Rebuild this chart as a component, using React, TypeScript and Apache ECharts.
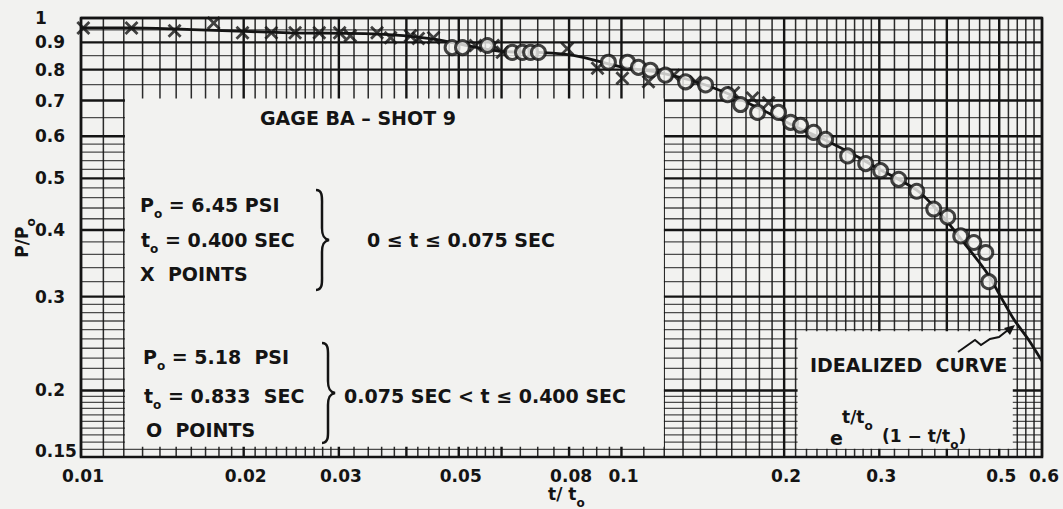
import React, { useEffect, useRef } from 'react';
import * as echarts from 'echarts';

const PAPER = '#f2f2f0';
const INK = '#141414';
const FONT = '"DejaVu Sans", sans-serif';

const X_MIN = 0.01;
const X_MAX = 0.6;
const Y_MIN = 0.15;
const Y_MAX = 1;

// tick labels
const xTickValues = [0.01, 0.02, 0.03, 0.05, 0.08, 0.1, 0.2, 0.3, 0.5, 0.6];
const xTickLabels = ['0.01', '0.02', '0.03', '0.05', '0.08', '0.1', '0.2', '0.3', '0.5', '0.6'];
const yTickValues = [1, 0.9, 0.8, 0.7, 0.6, 0.5, 0.4, 0.3, 0.2, 0.15];
const yTickLabels = ['1', '0.9', '0.8', '0.7', '0.6', '0.5', '0.4', '0.3', '0.2', '0.15'];

// log-log paper rulings: [from, to, step]
const xRulingRanges = [
  [0.01, 0.03, 0.001],
  [0.032, 0.06, 0.002],
  [0.065, 0.1, 0.005],
  [0.11, 0.3, 0.01],
  [0.32, 0.6, 0.02],
];
const yRulingRanges = [
  [0.155, 0.2, 0.005],
  [0.21, 0.3, 0.01],
  [0.32, 0.6, 0.02],
  [0.65, 1.0, 0.05],
];
const xMajor = [0.01, 0.02, 0.03, 0.04, 0.05, 0.06, 0.08, 0.1, 0.2, 0.3, 0.4, 0.5, 0.6];
const yMajor = [0.2, 0.3, 0.4, 0.5, 0.6, 0.7, 0.8, 0.9, 1];

// X points: 0 < t < 0.075 sec (t0 = 0.400 sec)
const xPoints = [
  [0.0101, 0.958], [0.0124, 0.958], [0.0149, 0.946], [0.0176, 0.979], [0.0199, 0.938],
  [0.0225, 0.938], [0.0249, 0.938], [0.0276, 0.938], [0.0301, 0.938], [0.0315, 0.926],
  [0.0353, 0.938], [0.0374, 0.918], [0.0407, 0.926], [0.0421, 0.915], [0.0449, 0.918],
  [0.0537, 0.888], [0.0579, 0.888], [0.0602, 0.862], [0.0794, 0.876], [0.0903, 0.805],
  [0.1004, 0.771], [0.1122, 0.759], [0.1249, 0.781], [0.1371, 0.759], [0.1612, 0.724],
  [0.1748, 0.708], [0.1872, 0.693],
];

// O points: 0.075 sec < t < 0.400 sec (t0 = 0.833 sec)
const oPoints = [
  [0.0486, 0.88], [0.0508, 0.88], [0.0565, 0.888], [0.0628, 0.862], [0.0656, 0.862],
  [0.0679, 0.862], [0.0702, 0.862], [0.0946, 0.826], [0.1026, 0.826], [0.1075, 0.808],
  [0.1131, 0.798], [0.1206, 0.781], [0.1314, 0.759], [0.1431, 0.749], [0.1572, 0.718],
  [0.1661, 0.688], [0.1786, 0.665], [0.1953, 0.665], [0.2056, 0.637], [0.2145, 0.629],
  [0.2268, 0.61], [0.2387, 0.592], [0.2621, 0.551], [0.2831, 0.533], [0.3017, 0.517],
  [0.3258, 0.498], [0.3518, 0.473], [0.3783, 0.438], [0.4015, 0.423], [0.4244, 0.39],
  [0.4487, 0.379], [0.4722, 0.363], [0.4783, 0.32],
];

// idealized curve as drawn
const idealizedCurve = [
  [0.01, 0.958], [0.0123, 0.958], [0.0166, 0.95], [0.0244, 0.938], [0.0347, 0.934],
  [0.0443, 0.915], [0.0597, 0.866], [0.0702, 0.862], [0.0815, 0.851], [0.101, 0.808],
  [0.1166, 0.791], [0.134, 0.765], [0.1545, 0.727], [0.1786, 0.679], [0.2056, 0.632],
  [0.2366, 0.592], [0.2735, 0.549], [0.298, 0.522], [0.329, 0.495], [0.358, 0.469],
  [0.398, 0.418], [0.437, 0.371], [0.476, 0.331], [0.503, 0.3], [0.532, 0.272],
  [0.565, 0.25], [0.6, 0.227],
];

// blank areas of the paper where the lettering sits: [x0, yTop, x1, yBottom]
const labelBoxes = [
  [0.01206, 0.706, 0.1198, 0.1568],
  [0.2118, 0.2582, 0.5298, 0.1555],
];

function expand(ranges: number[][]) {
  const out: number[] = [];
  ranges.forEach(([a, b, s]) => {
    const n = Math.round((b - a) / s);
    for (let i = 0; i <= n; i++) out.push(+(a + i * s).toFixed(4));
  });
  return out;
}
const xRulings = expand(xRulingRanges);
const yRulings = expand(yRulingRanges);
const isMajor = (v: number, list: number[]) => list.some((m) => Math.abs(m - v) < 1e-6);

const BRACE_D =
  'M0,0 C7,0 6,8 6,16 L6,38 C6,46 8,49 13,50 C8,51 6,54 6,62 L6,84 C6,92 7,100 0,100';
try {
  echarts.graphic.registerShape('brace', echarts.graphic.extendPath(BRACE_D, {}) as any);
} catch (e) {
  /* already registered */
}

const X_SYMBOL =
  'path://M0,1.7 L1.7,0 L6,4.3 L10.3,0 L12,1.7 L7.7,6 L12,10.3 L10.3,12 L6,7.7 L1.7,12 L0,10.3 L4.3,6 Z';

const richStyles = (size: number) => ({
  m: { fontSize: size, fontWeight: 'bold', fontFamily: FONT, fill: INK, lineHeight: 30 },
  s: { fontSize: 12, fontWeight: 'bold', fontFamily: FONT, fill: INK, lineHeight: 12, verticalAlign: 'bottom' },
});

function txt(text: string, x: number, y: number, size = 19, extra: any = {}) {
  return {
    type: 'text',
    x,
    y,
    z: 100,
    style: {
      text,
      fill: INK,
      font: `bold ${size}px ${FONT}`,
      align: 'left',
      verticalAlign: 'middle',
      ...extra,
    },
  };
}
function rich(text: string, x: number, y: number, size = 19, extra: any = {}) {
  return {
    type: 'text',
    x,
    y,
    z: 100,
    ...extra.el,
    style: {
      text,
      fill: INK,
      font: `bold ${size}px ${FONT}`,
      align: extra.align || 'left',
      verticalAlign: 'middle',
      rich: richStyles(size),
    },
  };
}

export default function App() {
  const ref = useRef<HTMLDivElement>(null);

  useEffect(() => {
    document.body.style.margin = '0';
    document.body.style.background = PAPER;
    const chart = echarts.init(ref.current!, undefined, { renderer: 'svg' });

    const option: any = {
      animation: false,
      backgroundColor: PAPER,
      grid: {
        left: 81,
        top: 18,
        width: 961,
        height: 439,
        show: true,
        borderColor: INK,
        borderWidth: 2.5,
        backgroundColor: 'transparent',
        z: 10,
      },
      xAxis: {
        type: 'log',
        logBase: 10,
        min: X_MIN,
        max: X_MAX,
        axisLine: { show: false },
        axisTick: { show: false },
        axisLabel: { show: false },
        splitLine: { show: false },
      },
      yAxis: {
        type: 'log',
        logBase: 10,
        min: Y_MIN,
        max: Y_MAX,
        axisLine: { show: false },
        axisTick: { show: false },
        axisLabel: { show: false },
        splitLine: { show: false },
      },
      series: [
        {
          type: 'custom',
          name: 'x rulings',
          silent: true,
          z: 1,
          data: xRulings.map((v) => [v, Y_MAX, isMajor(v, xMajor) ? 1 : 0]),
          renderItem: (params: any, api: any) => {
            const v = api.value(0);
            const major = api.value(2);
            const a = api.coord([v, Y_MIN]);
            const b = api.coord([v, Y_MAX]);
            return {
              type: 'line',
              shape: { x1: a[0], y1: a[1], x2: b[0], y2: b[1] },
              style: { stroke: INK, lineWidth: major ? 2.4 : 1.5, opacity: major ? 1 : 0.9 },
            };
          },
        },
        {
          type: 'custom',
          name: 'y rulings',
          silent: true,
          z: 1,
          data: yRulings.map((v) => [X_MAX, v, isMajor(v, yMajor) ? 1 : 0]),
          renderItem: (params: any, api: any) => {
            const v = api.value(1);
            const major = api.value(2);
            const a = api.coord([X_MIN, v]);
            const b = api.coord([X_MAX, v]);
            return {
              type: 'line',
              shape: { x1: a[0], y1: a[1], x2: b[0], y2: b[1] },
              style: { stroke: INK, lineWidth: major ? 2.4 : 1.3, opacity: major ? 1 : 0.75 },
            };
          },
        },
        {
          type: 'custom',
          name: 'blank areas',
          silent: true,
          z: 2,
          data: labelBoxes,
          renderItem: (params: any, api: any) => {
            const a = api.coord([api.value(0), api.value(1)]);
            const b = api.coord([api.value(2), api.value(3)]);
            return {
              type: 'rect',
              shape: { x: a[0], y: a[1], width: b[0] - a[0], height: b[1] - a[1] },
              style: { fill: PAPER },
            };
          },
        },
        {
          type: 'line',
          name: 'Idealized curve',
          z: 3,
          data: idealizedCurve,
          smooth: 0.3,
          symbol: 'none',
          lineStyle: { color: INK, width: 2.8 },
        },
        {
          type: 'scatter',
          name: 'X points',
          z: 4,
          data: xPoints,
          symbol: X_SYMBOL,
          symbolSize: 14,
          itemStyle: { color: INK },
        },
        {
          type: 'scatter',
          name: 'O points',
          z: 5,
          data: oPoints,
          symbol: 'circle',
          symbolSize: 14,
          itemStyle: { color: PAPER, borderColor: INK, borderWidth: 3 },
        },
        {
          type: 'custom',
          name: 'x labels',
          silent: true,
          clip: false,
          z: 6,
          data: xTickValues.map((v) => [v, Y_MIN]),
          renderItem: (params: any, api: any) => {
            const p = api.coord([api.value(0), api.value(1)]);
            return {
              type: 'text',
              x: p[0] + 2,
              y: p[1] + 19,
              style: {
                text: xTickLabels[params.dataIndex],
                fill: INK,
                font: `bold 17px ${FONT}`,
                align: 'center',
                verticalAlign: 'middle',
              },
            };
          },
        },
        {
          type: 'custom',
          name: 'y labels',
          silent: true,
          clip: false,
          z: 6,
          data: yTickValues.map((v) => [X_MIN, v]),
          renderItem: (params: any, api: any) => {
            const p = api.coord([api.value(0), api.value(1)]);
            const v = api.value(1);
            return {
              type: 'text',
              x: p[0] - 46,
              y: p[1] + (v === Y_MIN ? -6 : 0),
              style: {
                text: yTickLabels[params.dataIndex],
                fill: INK,
                font: `bold 17px ${FONT}`,
                align: 'left',
                verticalAlign: 'middle',
              },
            };
          },
        },
      ],
      graphic: [
        rich('{m|P/P}{s|o}', 22, 238, 17, { align: 'center', el: { rotation: Math.PI / 2 } }),
        rich('{m|t/ t}{s|o}', 548, 494, 17),
        txt('GAGE BA – SHOT 9', 260, 118),
        rich('{m|P}{s|o}{m| = 6.45 PSI}', 140, 205),
        rich('{m|t}{s|o}{m| = 0.400 SEC}', 141, 240),
        txt('X  POINTS', 140, 274),
        { type: 'brace', x: 316, y: 190, z: 100, style: { stroke: INK, lineWidth: 2.5, fill: 'none' } },
        txt('0 ≤ t ≤ 0.075 SEC', 367, 240),
        rich('{m|P}{s|o}{m| = 5.18  PSI}', 143, 357),
        rich('{m|t}{s|o}{m| = 0.833  SEC}', 144, 396),
        txt('O  POINTS', 146, 430),
        { type: 'brace', x: 322, y: 343, z: 100, style: { stroke: INK, lineWidth: 2.5, fill: 'none' } },
        txt('0.075 SEC < t ≤ 0.400 SEC', 344, 396),
        txt('IDEALIZED  CURVE', 810, 365),
        txt('e', 830, 438, 19),
        rich('{m|t/t}{s|o}', 842, 417, 17),
        rich('{m|(1 − t/t}{s|o}{m|)}', 882, 436, 17),
        {
          type: 'polyline',
          z: 100,
          shape: { points: [[958, 352], [975, 340], [981, 345], [990, 339], [999, 337], [1008, 330]] },
          style: { stroke: INK, lineWidth: 2, fill: 'none' },
        },
        {
          type: 'polygon',
          z: 100,
          shape: { points: [[1015, 325], [1004, 328], [1010, 335]] },
          style: { fill: INK },
        },
      ],
    };

    chart.setOption(option);
    return () => chart.dispose();
  }, []);

  return <div ref={ref} style={{ width: 1063, height: 509, background: PAPER }} />;
}
